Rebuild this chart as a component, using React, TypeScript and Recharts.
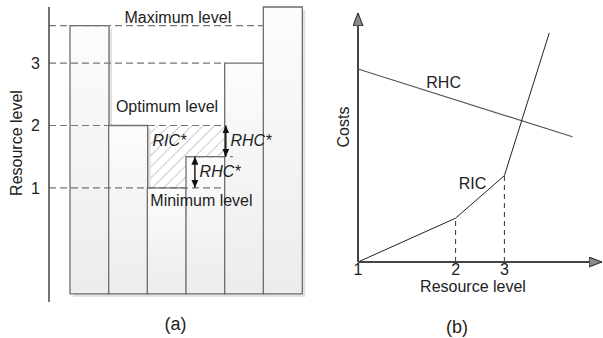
import {
  ComposedChart,
  Bar,
  Line,
  XAxis,
  YAxis,
  ReferenceLine,
  ReferenceArea,
  ReferenceDot,
  Rectangle,
  Label,
} from 'recharts';

// ---- (a) resource level per period ----
const periodCenters = [0.5, 1.5, 2.5, 3.5, 4.5, 5.5];
const periodLevels = [3.6, 2, 1, 1.5, 3, 3.9];
const BAR_BASE = -0.7;
const levelTicks = [1, 2, 3];

// dashed guide lines: level y, from x1 to x2 (x in period units)
const guideLevels = [3.6, 3, 2, 1, 1.5];
const guideStarts = [-0.543, -0.543, -0.543, -0.543, 3];
const guideEnds = [5, 4, 4, 4, 4.21];

// hatched gap between optimum level and the actual level
const hatchX1 = [2, 3];
const hatchX2 = [3, 4];
const hatchLow = [1, 1.5];
const hatchHigh = [2, 2];

// double arrows (RHC*)
const arrowX = [4.03, 3.23];
const arrowLow = [1.5, 1];
const arrowHigh = [2, 1.5];

const notesA = ['Maximum level', 'Optimum level', 'Minimum level', 'RIC*', 'RHC*', 'RHC*'];
const notesAX = [2.79, 2.51, 3.4, 2.57, 4.68, 3.88];
const notesAY = [3.74, 2.3, 0.8, 1.77, 1.77, 1.27];
const notesAItalic = [false, false, false, true, true, true];

// ---- (b) costs vs resource level ----
const levelTicksB = [0, 4, 6];
const levelTickLabelsB = ['1', '2', '3'];
const ricX = [0, 4, 6, 7.84];
const ricY = [0, 1.76, 3.47, 9.2];
const rhcX = [0, 8.79];
const rhcY = [7.75, 5.03];
const notesB = ['RHC', 'RIC'];
const notesBX = [3.51, 4.69];
const notesBY = [7.22, 3.17];

const barData = periodCenters.map((x, i) => ({ x, range: [BAR_BASE, periodLevels[i]] }));
const ricData = ricX.map((x, i) => ({ x, y: ricY[i] }));
const rhcData = rhcX.map((x, i) => ({ x, y: rhcY[i] }));

const FONT = '"Liberation Sans", Arial, sans-serif';
const TEXT = '#222';

const BarWithShadow = (props: any) => {
  const { x, y, width, height } = props;
  return (
    <g>
      <rect x={x + 3} y={y + 3} width={width} height={height} fill="#e2e2e2" />
      <Rectangle x={x} y={y} width={width} height={height} fill="url(#barFill)" stroke="#6e6e6e" strokeWidth={1.3} />
    </g>
  );
};

const rotatedLabel = (text: string, dx: number, dy: number) => (props: any) => {
  const vb = props.viewBox;
  const cx = vb.x + dx;
  const cy = vb.y + dy;
  return (
    <text x={cx} y={cy} textAnchor="middle" dominantBaseline="central" fontSize={16} fill={TEXT}
      transform={`rotate(-90 ${cx} ${cy})`}>
      {text}
    </text>
  );
};

function PanelA() {
  return (
    <ComposedChart width={310} height={338} data={barData} margin={{ top: 7, right: 8, bottom: 0, left: 0 }} barCategoryGap={0}>
      <defs>
        <linearGradient id="barFill" x1="0" y1="0" x2="0" y2="1">
          <stop offset="0%" stopColor="#fcfcfc" />
          <stop offset="100%" stopColor="#ececec" />
        </linearGradient>
        <pattern id="hatch" width="8" height="8" patternUnits="userSpaceOnUse" patternTransform="rotate(45)">
          <line x1="0" y1="0" x2="0" y2="8" stroke="#8a8a8a" strokeWidth={0.9} />
        </pattern>
        <marker id="arrA" viewBox="0 0 10 10" refX="10" refY="5" markerWidth="8" markerHeight="7"
          markerUnits="userSpaceOnUse" orient="auto-start-reverse" preserveAspectRatio="none">
          <path d="M0,0 L10,5 L0,10 z" fill="#111" />
        </marker>
      </defs>
      <XAxis dataKey="x" type="number" domain={[-0.543, 6]} tick={false} tickLine={false} axisLine={false} height={36}>
        <Label value="(a)" position="insideBottom" offset={8} fontSize={18} fill={TEXT} />
      </XAxis>
      <YAxis type="number" domain={[-0.83, 3.9]} ticks={levelTicks} width={49} tickLine={false} tickSize={0} tickMargin={9}
        axisLine={{ stroke: '#444', strokeWidth: 1.5 }} tick={{ fontSize: 16, fill: TEXT }}
        label={{ content: rotatedLabel('Resource level', 16, 136) }} />
      <Bar dataKey="range" isAnimationActive={false} shape={BarWithShadow} />
      {hatchX1.map((x1, i) => (
        <ReferenceArea key={`h${i}`} x1={x1} x2={hatchX2[i]} y1={hatchLow[i]} y2={hatchHigh[i]}
          fill="url(#hatch)" fillOpacity={1} stroke="none" />
      ))}
      {guideLevels.map((y, i) => (
        <ReferenceLine key={`g${i}`} segment={[{ x: guideStarts[i], y }, { x: guideEnds[i], y }]}
          stroke="#757575" strokeWidth={1.2} strokeDasharray="7 4" />
      ))}
      {arrowX.map((x, i) => (
        <ReferenceLine key={`a${i}`} segment={[{ x, y: arrowLow[i] }, { x, y: arrowHigh[i] }]}
          stroke="#111" strokeWidth={1.4} markerStart="url(#arrA)" markerEnd="url(#arrA)" />
      ))}
      {notesA.map((t, i) => (
        <ReferenceDot key={`n${i}`} x={notesAX[i]} y={notesAY[i]} r={0} fill="none" stroke="none"
          label={{ value: t, position: 'center', fontSize: 16, fill: TEXT, fontStyle: notesAItalic[i] ? 'italic' : 'normal' }} />
      ))}
    </ComposedChart>
  );
}

function PanelB() {
  return (
    <ComposedChart width={303} height={338} margin={{ top: 13, right: 1, bottom: 0, left: 0 }}>
      <defs>
        <marker id="arrB" viewBox="0 0 10 10" refX="10" refY="5" markerWidth="13" markerHeight="11"
          markerUnits="userSpaceOnUse" orient="auto-start-reverse" preserveAspectRatio="none">
          <path d="M0,0.5 L10,5 L0,9.5 z" fill="#8c8c8c" stroke="#333" strokeWidth={1} />
        </marker>
      </defs>
      <XAxis dataKey="x" type="number" domain={[0, 10]} ticks={levelTicksB}
        tickFormatter={(v: number) => levelTickLabelsB[levelTicksB.indexOf(v)]}
        tickLine={false} tickSize={0} tickMargin={2} height={76} tick={{ fontSize: 16, fill: TEXT }}
        axisLine={{ stroke: '#444', strokeWidth: 2, markerEnd: 'url(#arrB)' }}>
        <Label value="Resource level" position="insideTop" offset={19} dx={-7} fontSize={16} fill={TEXT} />
        <Label value="(b)" position="insideBottom" offset={5} dx={-23} fontSize={18} fill={TEXT} />
      </XAxis>
      <YAxis type="number" domain={[0, 10]} tick={false} tickLine={false} width={58}
        axisLine={{ stroke: '#444', strokeWidth: 2, markerStart: 'url(#arrB)' }}
        label={{ content: rotatedLabel('Costs', 43, 114) }} />
      <ReferenceLine segment={[{ x: ricX[1], y: 0 }, { x: ricX[1], y: ricY[1] }]} stroke="#333" strokeDasharray="5 4" />
      <ReferenceLine segment={[{ x: ricX[2], y: 0 }, { x: ricX[2], y: ricY[2] }]} stroke="#333" strokeDasharray="5 4" />
      <Line data={rhcData} dataKey="y" type="linear" stroke="#555" strokeWidth={1.2} dot={false} isAnimationActive={false} />
      <Line data={ricData} dataKey="y" type="linear" stroke="#222" strokeWidth={1} dot={false} isAnimationActive={false} />
      {notesB.map((t, i) => (
        <ReferenceDot key={`b${i}`} x={notesBX[i]} y={notesBY[i]} r={0} fill="none" stroke="none"
          label={{ value: t, position: 'center', fontSize: 16, fill: TEXT }} />
      ))}
    </ComposedChart>
  );
}

export default function App() {
  return (
    <div style={{ position: 'absolute', left: 0, top: 0, width: 603, height: 338, background: '#fff', fontFamily: FONT }}>
      <div style={{ position: 'absolute', left: 0, top: 0 }}>
        <PanelA />
      </div>
      <div style={{ position: 'absolute', left: 300, top: 0 }}>
        <PanelB />
      </div>
    </div>
  );
}
